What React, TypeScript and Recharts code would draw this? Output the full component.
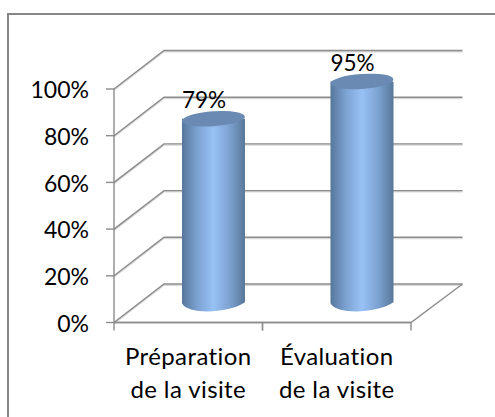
import React from 'react';
import { BarChart, Bar, XAxis, YAxis, CartesianGrid, LabelList } from 'recharts';

const categories = ['Préparation\nde la visite', 'Évaluation\nde la visite'];
const scores = [79, 95];
const yTicks = [0, 20, 40, 60, 80, 100];

const data = categories.map((name, i) => ({ name, score: scores[i] }));

const FONT = 'Lato, sans-serif';
const LINE = '#8c8c8c';
const SHADOW = '#d9d9d9';

// depth of the fake 3d box
const DEPTH_X = 50;
const DEPTH_Y = 38.5;
const RX = 31.5;
const RY = 7.5;

function WallLine({ x1, x2, y1 }: any) {
  const isFloor = Math.abs(y1 - 322.5) < 1;
  const bx = x1 + DEPTH_X;
  const by = y1 - DEPTH_Y;
  const pts = `${x1},${y1} ${bx},${by} ${x2 + DEPTH_X + 1.5},${by}`;
  const floor = `${x1},${y1} ${x2},${y1} ${x2 + DEPTH_X + 1.5},${by}`;
  return (
    <g fill="none">
      <polyline points={pts} stroke={SHADOW} strokeWidth={1.5} transform="translate(0,1.2)" />
      <polyline points={pts} stroke={LINE} strokeWidth={1.4} />
      {isFloor && <polyline points={floor} stroke={LINE} strokeWidth={1.4} />}
    </g>
  );
}

function Cylinder({ x, y, width, height }: any) {
  const cx = x + width / 2 + DEPTH_X / 2;
  const top = y - DEPTH_Y / 2;
  const base = y + height - DEPTH_Y / 2;
  const tilt = `rotate(-4 ${cx} ${top})`;
  const l = cx - RX;
  const r = cx + RX;
  return (
    <g>
      <path
        d={`M${l},${top} L${l},${base} C${l + 6},${base + 12} ${r - 16},${base + 10} ${r},${base - 1} L${r},${top} Z`}
        fill="url(#cylinderBody)"
      />
      <ellipse cx={cx} cy={top} rx={RX} ry={RY} fill="#6a8ab3" transform={tilt} />
    </g>
  );
}

function ValueLabel({ x, y, width, value }: any) {
  return (
    <text
      x={x + width / 2 + 15.5}
      y={y - 30}
      textAnchor="middle"
      fontFamily={FONT}
      fontSize={22.5}
      fill="#000"
    >
      {value}%
    </text>
  );
}

// ticks sit on the band edges, labels in the band centre
function CategoryTick({ x, payload, width, visibleTicksCount }: any) {
  const lines = String(payload.value).split('\n');
  const half = width / visibleTicksCount / 2;
  const top = 322.5;
  return (
    <g>
      <line x1={x - half} x2={x - half} y1={top} y2={top + 8} stroke={LINE} strokeWidth={1.4} />
      <line x1={x + half} x2={x + half} y1={top} y2={top + 8} stroke={LINE} strokeWidth={1.4} />
      <text x={x} textAnchor="middle" fontFamily={FONT} fontSize={24} letterSpacing={0.4} fill="#000">
        {lines.map((line, i) => (
          <tspan key={line} x={x} y={364.5 + i * 33}>
            {line}
          </tspan>
        ))}
      </text>
    </g>
  );
}

export default function App() {
  return (
    <div style={{ position: 'absolute', left: 0, top: 0, width: 495, height: 417, background: '#fff', overflow: 'hidden' }}>
      <div
        style={{
          position: 'absolute',
          left: 7,
          top: 13,
          width: 600,
          height: 500,
          border: '2px solid #868686',
          boxSizing: 'border-box',
        }}
      />
      <BarChart
        width={495}
        height={417}
        data={data}
        margin={{ top: 89, right: 84, bottom: 0, left: 0 }}
        style={{ position: 'absolute', left: 0, top: 0 }}
      >
        <defs>
          <linearGradient id="cylinderBody" x1="0" y1="0" x2="1" y2="0">
            <stop offset="0" stopColor="#56769c" />
            <stop offset="0.25" stopColor="#7da3d2" />
            <stop offset="0.5" stopColor="#98c1f5" />
            <stop offset="0.75" stopColor="#7da3d2" />
            <stop offset="1" stopColor="#587899" />
          </linearGradient>
        </defs>
        <CartesianGrid vertical={false} horizontal={(p: any) => <WallLine key={p.index} {...p} />} />
        <XAxis
          dataKey="name"
          interval={0}
          height={94.5}
          axisLine={{ stroke: LINE, strokeWidth: 1.4 }}
          tickLine={false}
          tick={<CategoryTick />}
        />
        <YAxis
          domain={[0, 100]}
          ticks={yTicks}
          interval={0}
          width={114}
          tickFormatter={(v: number) => `${v}%`}
          axisLine={{ stroke: LINE, strokeWidth: 1.4 }}
          tickLine={{ stroke: LINE, strokeWidth: 1.4 }}
          tickSize={8}
          tickMargin={17}
          tick={{ fontFamily: FONT, fontSize: 23, fill: '#000', dy: 1 }}
        />
        <Bar dataKey="score" barSize={63} isAnimationActive={false} shape={<Cylinder />}>
          <LabelList dataKey="score" content={<ValueLabel />} />
        </Bar>
      </BarChart>
    </div>
  );
}
